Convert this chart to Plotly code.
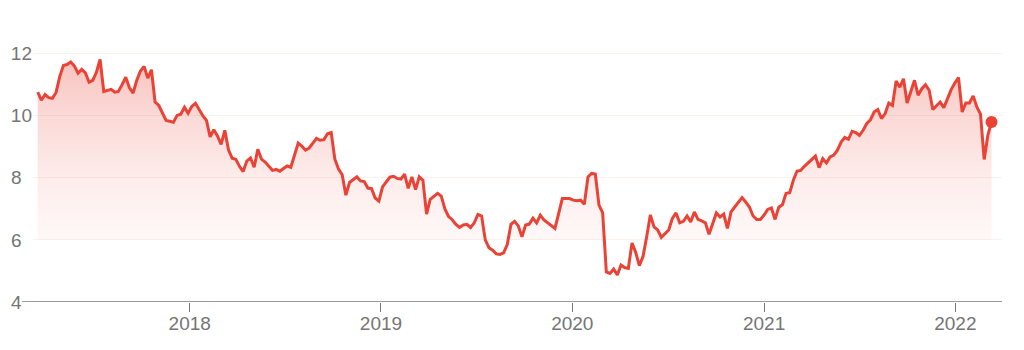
import pandas as pd
import plotly.graph_objects as go

# Weekly closing values
start_date = "2017-03-17"
price = [
    10.76, 10.50, 10.68, 10.58, 10.56, 10.75, 11.26, 11.62, 11.65, 11.73,
    11.60, 11.37, 11.49, 11.38, 11.08, 11.14, 11.40, 11.81, 10.78, 10.82,
    10.85, 10.76, 10.78, 11.00, 11.24, 10.90, 10.73, 11.14, 11.44, 11.59,
    11.21, 11.48, 10.44, 10.33, 10.08, 9.85, 9.82, 9.79, 10.01, 10.05,
    10.27, 10.08, 10.30, 10.40, 10.20, 10.00, 9.85, 9.32, 9.55, 9.35,
    9.08, 9.53, 8.90, 8.63, 8.60, 8.37, 8.20, 8.54, 8.64, 8.34,
    8.92, 8.60, 8.51, 8.38, 8.24, 8.27, 8.21, 8.30, 8.38, 8.34,
    8.75, 9.12, 9.02, 8.89, 8.96, 9.11, 9.27, 9.21, 9.23, 9.42,
    9.46, 8.60, 8.28, 8.10, 7.44, 7.85, 7.95, 8.03, 7.90, 7.88,
    7.67, 7.65, 7.35, 7.25, 7.71, 7.85, 8.02, 8.05, 7.98, 7.96,
    8.12, 7.66, 8.03, 7.62, 8.03, 7.92, 6.83, 7.31, 7.42, 7.50,
    7.41, 7.00, 6.75, 6.65, 6.50, 6.40, 6.48, 6.50, 6.40, 6.55,
    6.82, 6.77, 6.00, 5.75, 5.67, 5.55, 5.53, 5.58, 5.85, 6.50,
    6.60, 6.45, 6.10, 6.48, 6.51, 6.70, 6.55, 6.80, 6.64, 6.55,
    6.44, 6.37, 6.85, 7.33, 7.33, 7.33, 7.28, 7.26, 7.28, 7.15,
    8.03, 8.14, 8.12, 7.12, 6.87, 4.97, 4.92, 5.06, 4.87, 5.19,
    5.11, 5.08, 5.90, 5.60, 5.17, 5.46, 6.10, 6.80, 6.42, 6.32,
    6.08, 6.21, 6.32, 6.69, 6.87, 6.55, 6.60, 6.77, 6.58, 6.90,
    6.66, 6.61, 6.55, 6.18, 6.53, 6.87, 6.74, 6.83, 6.37, 6.90,
    7.06, 7.22, 7.36, 7.22, 7.06, 6.77, 6.66, 6.66, 6.80, 6.98,
    7.03, 6.66, 7.05, 7.13, 7.50, 7.52, 7.93, 8.22, 8.24, 8.37,
    8.48, 8.62, 8.70, 8.33, 8.62, 8.48, 8.67, 8.73, 8.89, 9.15,
    9.30, 9.24, 9.50, 9.46, 9.37, 9.53, 9.75, 9.87, 10.12, 10.20,
    9.91, 10.07, 10.41, 10.33, 11.12, 10.92, 11.19, 10.41, 10.76, 11.14,
    10.66, 10.87, 11.00, 10.82, 10.20, 10.33, 10.44, 10.26, 10.55, 10.84,
    11.05, 11.23, 10.12, 10.41, 10.41, 10.64, 10.28, 10.05, 8.59, 9.37,
    9.80,
]

y_ticks = [4, 6, 8, 10, 12]
y_tick_labels = ["4\u00a0\u00a0", "6\u00a0\u00a0", "8\u00a0\u00a0", "10", "12"]
x_ticks = ["2018-01-01", "2019-01-01", "2020-01-01", "2021-01-01", "2022-01-01"]
x_tick_labels = ["2018", "2019", "2020", "2021", "2022"]

dates = pd.date_range(start_date, periods=len(price), freq="7D")

RED = "#EA4335"
GREY_TEXT = "#757575"
GREY_LINE = "#777777"

fig = go.Figure()
fig.add_trace(go.Scatter(
    x=dates, y=price, mode="lines",
    line=dict(color=RED, width=3),
    fill="tozeroy",
    fillgradient=dict(
        type="vertical", start=4, stop=12,
        colorscale=[[0, "rgba(234,67,53,0)"], [0.248, "rgba(234,67,53,0)"],
                    [0.25, "rgba(234,67,53,0.035)"], [0.5, "rgba(234,67,53,0.1)"],
                    [0.75, "rgba(234,67,53,0.2)"], [1, "rgba(234,67,53,0.33)"]],
    ),
    hoverinfo="skip",
))
fig.add_trace(go.Scatter(
    x=[dates[-1]], y=[price[-1]], mode="markers",
    marker=dict(color=RED, size=12),
    hoverinfo="skip",
))

fig.update_layout(
    width=1024, height=350,
    margin=dict(l=33, r=22, t=35, b=48),
    paper_bgcolor="white", plot_bgcolor="white",
    showlegend=False,
    font=dict(family="Liberation Sans, Arial, sans-serif", size=19, color=GREY_TEXT),
)
fig.update_xaxes(
    range=["2017-03-08", "2022-03-31"],
    tickvals=x_ticks, ticktext=x_tick_labels,
    ticks="outside", ticklen=9, tickwidth=1, tickcolor=GREY_LINE,
    ticklabelstandoff=-5,
    tickfont=dict(color=GREY_TEXT, size=19),
    showgrid=False, showline=False, zeroline=False,
)
fig.update_yaxes(
    range=[4, 12.6],
    tickvals=y_ticks, ticktext=y_tick_labels,
    ticks="", ticklabelstandoff=0,
    tickfont=dict(color=GREY_TEXT, size=19),
    showgrid=True, gridcolor="rgba(234,67,53,0.08)", gridwidth=1,
    zeroline=False, showline=False,
)
fig.add_shape(
    type="line", xref="paper", yref="y",
    x0=-11 / 969, x1=1, y0=4, y1=4,
    line=dict(color=GREY_LINE, width=1.5),
)

fig.write_html("out.html", config={"displayModeBar": False})
